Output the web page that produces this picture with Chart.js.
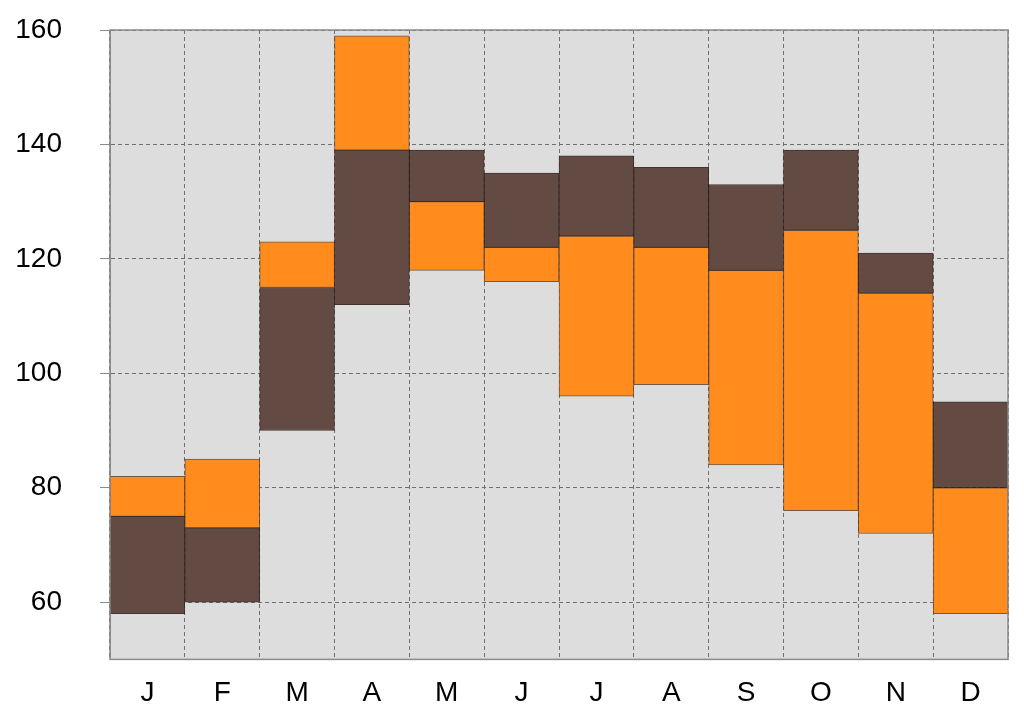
<!DOCTYPE html>
<html>
<head>
<meta charset="utf-8">
<script src="https://cdn.jsdelivr.net/npm/chart.js@4/dist/chart.umd.min.js"></script>
<style>
html,body{margin:0;padding:0;background:#fff;}
#wrap{width:1024px;height:728px;}
</style>
</head>
<body>
<div id="wrap"><canvas id="c" width="1024" height="728"></canvas></div>
<script>
const months = ['J','F','M','A','M','J','J','A','S','O','N','D'];
const brownLow  = [58, 60, 90, 112, 130, 122, 124, 122, 118, 125, 114, 80];
const brownHigh = [75, 73, 115, 139, 139, 135, 138, 136, 133, 139, 121, 95];
const orangeLow  = [75, 73, 115, 139, 118, 116, 96, 98, 84, 76, 72, 58];
const orangeHigh = [82, 85, 123, 159, 130, 122, 124, 122, 118, 125, 114, 80];
const yTicks = [60, 80, 100, 120, 140, 160];
const yMin = 50, yMax = 160;

const bgPlugin = {
  id: 'plotBg',
  beforeDraw(chart) {
    const {ctx, chartArea: a} = chart;
    ctx.save();
    ctx.fillStyle = '#DCDDDC';
    ctx.fillRect(a.left, a.top, a.right - a.left, a.bottom - a.top);
    ctx.restore();
  },
  afterDraw(chart) {
    const {ctx, chartArea: a} = chart;
    ctx.save();
    ctx.strokeStyle = '#8a8a8a';
    ctx.lineWidth = 1.5;
    ctx.setLineDash([]);
    ctx.strokeRect(a.left, a.top, a.right - a.left, a.bottom - a.top);
    ctx.restore();
  }
};

new Chart(document.getElementById('c'), {
  type: 'bar',
  data: {
    labels: months,
    datasets: [
      {
        label: 'brown',
        data: brownLow.map((v, i) => [v, brownHigh[i]]),
        backgroundColor: '#634A43',
        borderColor: 'rgba(40,25,20,0.85)',
        borderWidth: 1,
        borderSkipped: false
      },
      {
        label: 'orange',
        data: orangeLow.map((v, i) => [v, orangeHigh[i]]),
        backgroundColor: '#FF8C1C',
        borderColor: 'rgba(90,55,25,0.8)',
        borderWidth: 1,
        borderSkipped: false
      }
    ]
  },
  options: {
    responsive: false,
    animation: false,
    devicePixelRatio: 1,
    layout: { padding: { left: 15, right: 16, top: 30, bottom: 1 } },
    plugins: { legend: { display: false }, tooltip: { enabled: false } },
    datasets: { bar: { grouped: false, barPercentage: 1, categoryPercentage: 1 } },
    scales: {
      x: {
        offset: true,
        grid: { offset: true, color: '#707070', drawTicks: false, borderDash: [4, 3] },
        border: { display: true, color: '#8a8a8a', dash: [4, 3] },
        ticks: { color: '#000', font: { family: 'Liberation Sans', size: 28 }, padding: 17 }
      },
      y: {
        min: yMin,
        max: yMax,
        afterBuildTicks: s => { s.ticks = yTicks.map(v => ({ value: v })); },
        afterFit: s => { s.width = 95; s.paddingTop = 17; s.paddingBottom = 17; },
        grid: { color: '#707070', tickLength: 10, tickColor: '#8a8a8a', tickBorderDash: [], borderDash: [4, 3] },
        border: { display: true, color: '#8a8a8a', dash: [4, 3] },
        ticks: { color: '#000', font: { family: 'Liberation Sans', size: 28 }, padding: 38 }
      }
    }
  },
  plugins: [bgPlugin]
});
</script>
</body>
</html>
